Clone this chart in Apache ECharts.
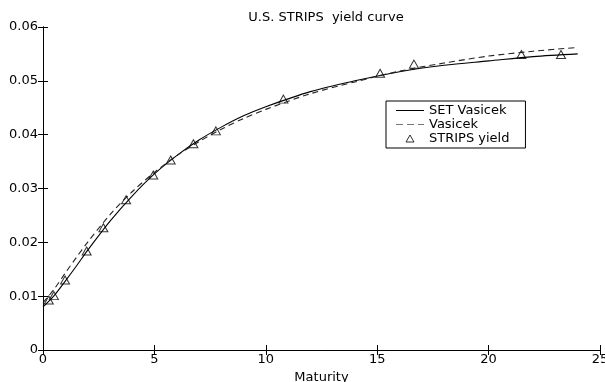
<!DOCTYPE html>
<html>
<head>
<meta charset="utf-8">
<script src="https://cdn.jsdelivr.net/npm/echarts@6/dist/echarts.min.js"></script>
<style>html,body{margin:0;padding:0;background:#fff}#c{width:605px;height:382px}</style>
</head>
<body>
<div id="c"></div>
<script>
var curveMaturity = [0, 0.5, 1, 1.5, 2, 3, 4, 5, 6, 7, 8, 9, 10, 12, 14, 16, 18, 20, 22, 24];
var setVasicek   = [0.0080, 0.0101, 0.0128, 0.0156, 0.0185, 0.0239, 0.0286, 0.0327, 0.0361, 0.0390, 0.0414, 0.0435, 0.0452, 0.0480, 0.0500, 0.0517, 0.0529, 0.0537, 0.0545, 0.0550];
var vasicek      = [0.0088, 0.0113, 0.0143, 0.0172, 0.0200, 0.0251, 0.0294, 0.0330, 0.0361, 0.0387, 0.0410, 0.0430, 0.0447, 0.0476, 0.0498, 0.0518, 0.0533, 0.0546, 0.0555, 0.0562];
var stripsMaturity = [0.26, 0.49, 0.99, 1.96, 2.71, 3.73, 4.95, 5.73, 6.75, 7.76, 10.79, 15.13, 16.65, 21.47, 23.25];
var stripsYield    = [0.0093, 0.0101, 0.0130, 0.0184, 0.0227, 0.0279, 0.0325, 0.0353, 0.0383, 0.0407, 0.0466, 0.0514, 0.0531, 0.0549, 0.0549];

function zip(a, b) { return a.map(function (v, i) { return [v, b[i]]; }); }

var FONT = 'DejaVu Sans';
var chart = echarts.init(document.getElementById('c'));
var axisLine = { show: true, lineStyle: { color: '#000', width: 1 } };
var tick = { show: true, inside: true, length: 5, lineStyle: { color: '#000', width: 1 } };
chart.setOption({
  animation: false,
  backgroundColor: '#fff',
  title: {
    text: 'U.S. STRIPS  yield curve',
    left: 321, textAlign: 'center', top: 6,
    textStyle: { fontFamily: FONT, fontSize: 13, fontWeight: 'normal', color: '#000' }
  },
  grid: { left: 43, right: 5, top: 27, bottom: 32, outerBoundsMode: 'none', containLabel: false },
  legend: {
    orient: 'vertical', left: 386, top: 101,
    padding: [3, 16, 3, 10],
    itemWidth: 28, itemHeight: 7, itemGap: 1,
    backgroundColor: '#fff', borderColor: '#000', borderWidth: 1,
    textStyle: { fontFamily: FONT, fontSize: 13, color: '#000', lineHeight: 12 },
    data: [
      { name: 'SET Vasicek', icon: 'path://M0,0H28V1H0Z' },
      { name: 'Vasicek', icon: 'path://M0,0H7V1H0Z M11,0H18V1H11Z M22,0H28V1H22Z', itemStyle: { color: '#777' } },
      { name: 'STRIPS yield', icon: 'path://M0,7L8,7L4,0Z',
        itemStyle: { color: 'rgba(0,0,0,0)', borderColor: '#000', borderWidth: 1 } }
    ]
  },
  xAxis: [{
    type: 'value', min: 0, max: 25, interval: 5, position: 'bottom',
    name: 'Maturity', nameLocation: 'middle', nameGap: 18,
    nameTextStyle: { fontFamily: FONT, fontSize: 13, color: '#000' },
    axisLine: axisLine, axisTick: tick, splitLine: { show: false },
    axisLabel: { fontFamily: FONT, fontSize: 13, color: '#000', margin: 3 }
  }, {
    type: 'value', min: 0, max: 25, interval: 5, position: 'top',
    axisLine: axisLine, axisTick: tick, splitLine: { show: false },
    axisLabel: { show: false }
  }],
  yAxis: [{
    type: 'value', min: 0, max: 0.06, interval: 0.01, position: 'left',
    axisLine: axisLine, axisTick: tick, splitLine: { show: false },
    axisLabel: { fontFamily: FONT, fontSize: 13, color: '#000', margin: 5 }
  }, {
    type: 'value', min: 0, max: 0.06, interval: 0.01, position: 'right',
    axisLine: axisLine, axisTick: tick, splitLine: { show: false },
    axisLabel: { show: false }
  }],
  series: [{
    name: 'SET Vasicek', type: 'line', data: zip(curveMaturity, setVasicek),
    smooth: 0.3, showSymbol: false, symbol: 'none',
    lineStyle: { color: '#000', width: 1.1, type: 'solid' }, itemStyle: { color: '#000' }
  }, {
    name: 'Vasicek', type: 'line', data: zip(curveMaturity, vasicek),
    smooth: 0.3, showSymbol: false, symbol: 'none',
    lineStyle: { color: '#222', width: 1.1, type: [6, 4] }, itemStyle: { color: '#222' }
  }, {
    name: 'STRIPS yield', type: 'scatter', data: zip(stripsMaturity, stripsYield),
    symbol: 'triangle', symbolSize: [9, 8],
    itemStyle: { color: 'rgba(0,0,0,0)', borderColor: '#000', borderWidth: 1 }
  }]
});
</script>
</body>
</html>
